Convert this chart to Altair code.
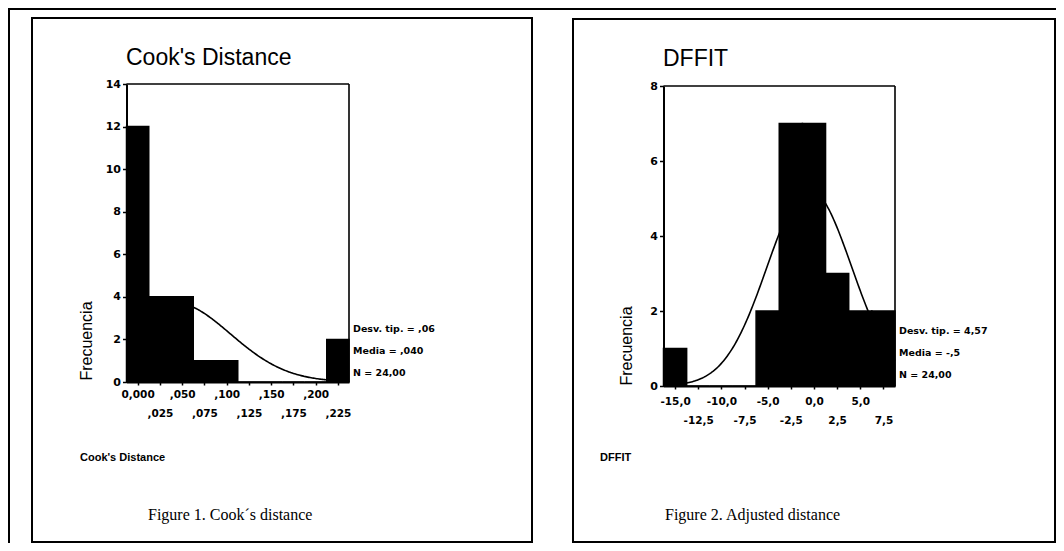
import json
import altair as alt
import pandas as pd

W, H = 1048, 535

# ---------------- data ----------------
cook_centers = [0.000, 0.025, 0.050, 0.075, 0.100, 0.125, 0.150, 0.175, 0.200, 0.225]
cook_counts = [12, 4, 4, 1, 1, 0, 0, 0, 0, 2]
cook_labels = ["0,000", ",025", ",050", ",075", ",100", ",125", ",150", ",175", ",200", ",225"]
cook_bin = 0.025
cook_mean, cook_sd, cook_n = 0.040, 0.064, 24
cook_yticks = [0, 2, 4, 6, 8, 10, 12, 14]
cook_stats = ["Desv. tip. = ,06", "Media = ,040", "N = 24,00"]

dffit_centers = [-15.0, -12.5, -10.0, -7.5, -5.0, -2.5, 0.0, 2.5, 5.0, 7.5]
dffit_counts = [1, 0, 0, 0, 2, 7, 7, 3, 2, 2]
dffit_labels = ["-15,0", "-12,5", "-10,0", "-7,5", "-5,0", "-2,5", "0,0", "2,5", "5,0", "7,5"]
dffit_bin = 2.5
dffit_mean, dffit_sd, dffit_n = -0.5, 4.57, 24
dffit_yticks = [0, 2, 4, 6, 8]
dffit_stats = ["Desv. tip. = 4,57", "Media = -,5", "N = 24,00"]

LABEL_FONT = "DejaVu Sans"


def panel(centers, counts, labels, binw, mean, sd, n, yticks,
          xrange_px, yrange_px, xoff, yoff, pad1, pad2):
    lo = centers[0] - binw / 2
    hi = centers[-1] + binw / 2
    ymax = yticks[-1]
    df = pd.DataFrame({"c": centers, "n": counts})
    df["lo"] = df["c"] - binw / 2
    df["hi"] = df["c"] + binw / 2

    xs = alt.Scale(domain=[lo, hi], range=xrange_px, nice=False, zero=False)
    ys = alt.Scale(domain=[0, ymax], range=yrange_px, nice=False, zero=False)
    idx = f"indexof({json.dumps(centers)}, datum.value)"
    xaxis = alt.Axis(
        orient="bottom", offset=xoff, title=None, grid=False,
        values=centers, labelExpr=f"{json.dumps(labels)}[{idx}]",
        labelOverlap=False, labelFlush=False,
        labelPadding={"condition": {"test": f"{idx} % 2 == 1", "value": pad2}, "value": pad1},
        tickSize=3, tickWidth=1.5, tickColor="black",
        domainWidth=2, domainColor="black",
        labelFont=LABEL_FONT, labelFontWeight="bold", labelFontSize=10.5, labelColor="black",
    )
    yaxis = alt.Axis(
        orient="left", offset=yoff, title=None, grid=False,
        values=yticks, format="d", labelOverlap=False, labelFlush=False,
        tickSize=4, tickWidth=1.5, tickColor="black", labelPadding=2,
        domainWidth=2, domainColor="black",
        labelFont=LABEL_FONT, labelFontWeight="bold", labelFontSize=11, labelColor="black",
    )

    step = (hi - lo) / 200
    k = n * binw / (sd * (2 * 3.141592653589793) ** 0.5)
    curve = (
        alt.Chart(alt.sequence(0, 201, 1, as_="i"))
        .transform_calculate(
            xv=f"{lo} + datum.i * {step}",
        )
        .transform_calculate(
            yv=f"{k} * exp(-0.5 * pow((datum.xv - ({mean})) / {sd}, 2))"
        )
        .mark_line(color="black", strokeWidth=1.6)
        .encode(
            x=alt.X("xv:Q", scale=xs, axis=xaxis),
            y=alt.Y("yv:Q", scale=ys, axis=yaxis),
        )
    )
    bars = (
        alt.Chart(df)
        .mark_rect(color="black", stroke="black", strokeWidth=1.5)
        .encode(
            x=alt.X("lo:Q", scale=xs, axis=xaxis),
            x2="hi:Q",
            y=alt.Y("n:Q", scale=ys, axis=yaxis),
            y2=alt.datum(0),
        )
    )
    one = pd.DataFrame({"a": [0]})
    top = (
        alt.Chart(one)
        .mark_rule(color="black", strokeWidth=1.6)
        .encode(
            x=alt.X(datum=lo, scale=xs, axis=xaxis),
            x2=alt.datum(hi),
            y=alt.Y(datum=ymax, scale=ys, axis=yaxis),
        )
    )
    right = (
        alt.Chart(one)
        .mark_rule(color="black", strokeWidth=1.6)
        .encode(
            x=alt.X(datum=hi, scale=xs, axis=xaxis),
            y=alt.Y(datum=0, scale=ys, axis=yaxis),
            y2=alt.datum(ymax),
        )
    )
    return alt.layer(curve, bars, top, right)


left = panel(cook_centers, cook_counts, cook_labels, cook_bin, cook_mean, cook_sd, cook_n,
             cook_yticks, [118.5, 341], [374, 76], 374 - H, -118.5, 4, 23)
right = panel(dffit_centers, dffit_counts, dffit_labels, dffit_bin, dffit_mean, dffit_sd, dffit_n,
              dffit_yticks, [655.5, 887], [378, 78], 378 - H, -655.5, 7, 26)

one = pd.DataFrame({"a": [0]})


def text(t, x, y, size, font="Liberation Sans", weight="normal", align="left",
         baseline="middle", angle=0, line_height=None):
    kw = dict(text=t, font=font, fontSize=size, fontWeight=weight, align=align,
              baseline=baseline, color="black")
    if angle:
        kw["angle"] = angle
    if line_height:
        kw["lineHeight"] = line_height
    return alt.Chart(one).mark_text(**kw).encode(x=alt.value(x), y=alt.value(y))


def box(x1, x2, y1, y2):
    return alt.Chart(one).mark_rect(fillOpacity=0, stroke="black", strokeWidth=2).encode(
        x=alt.value(x1), x2=alt.value(x2), y=alt.value(y1), y2=alt.value(y2))


outer_top = alt.Chart(one).mark_rule(color="black", strokeWidth=2).encode(
    x=alt.value(0), x2=alt.value(W), y=alt.value(1))
outer_left = alt.Chart(one).mark_rule(color="black", strokeWidth=2).encode(
    x=alt.value(1), y=alt.value(0), y2=alt.value(H))

decor = [
    outer_top, outer_left,
    box(24, 524, 10, 534), box(565, 1047, 11, 534),
    text("Cook's Distance", 118, 57, 23, baseline="alphabetic"),
    text("DFFIT", 655, 58, 23, baseline="alphabetic"),
    text(cook_stats, 345, 321, 9.5, font=LABEL_FONT, weight="bold", line_height=22),
    text(dffit_stats, 891, 323, 9.5, font=LABEL_FONT, weight="bold", line_height=22),
    text("Frecuencia", 79, 333, 16, align="center", angle=270),
    text("Frecuencia", 619, 338, 16, align="center", angle=270),
    text("Cook's Distance", 72, 450, 11, weight="bold"),
    text("DFFIT", 592, 450, 11, weight="bold"),
    text("Figure 1. Cook\u00b4s distance", 140, 507, 16, font="Liberation Serif"),
    text("Figure 2. Adjusted distance", 657, 507, 16, font="Liberation Serif"),
]

chart = (
    alt.layer(left, right, *decor)
    .resolve_scale(x="independent", y="independent")
    .properties(width=W, height=H, padding=0, autosize=alt.AutoSizeParams(type="none"),
                background="white")
    .configure_view(stroke=None)
)

chart.save("out.html", embed_options={"renderer": "svg", "actions": False})
